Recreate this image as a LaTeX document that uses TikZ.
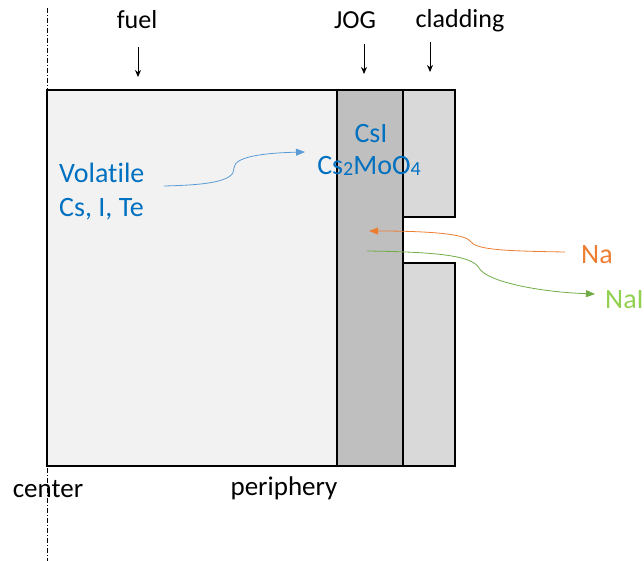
\documentclass[tikz,border=0pt]{standalone}
\usepackage{fontspec}
\setmainfont{Carlito}[Ligatures=NoCommon]
\usetikzlibrary{arrows.meta}
\definecolor{fuelfill}{HTML}{F2F2F2}
\definecolor{jogfill}{HTML}{BFBFBF}
\definecolor{cladfill}{HTML}{D9D9D9}
\definecolor{txtblue}{HTML}{0070C0}
\definecolor{arrblue}{HTML}{5B9BD5}
\definecolor{naorange}{HTML}{ED7D31}
\definecolor{nagreen}{HTML}{70AD47}
\definecolor{naigreen}{HTML}{92D050}
\tikzset{
  region/.style={draw=black, line width=1.3pt},
  toplabel/.style={font=\fontsize{26}{30}\selectfont, inner sep=0pt, anchor=base},
  botlabel/.style={font=\fontsize{27}{31}\selectfont, inner sep=0pt, anchor=base},
  bluetext/.style={font=\fontsize{28}{32}\selectfont, text=txtblue, inner sep=0pt},
  pointer/.style={-{Stealth[length=7pt,width=6pt]}, line width=0.8pt},
  flowline/.style={line width=0.8pt, draw=#1, -{Triangle[length=9pt,width=7pt,fill=#1]}},
}
\newcommand{\smallsub}[1]{\raisebox{-1pt}{\fontsize{20}{22}\selectfont #1}}
\begin{document}
\begin{tikzpicture}[x=1pt,y=-1pt]
\useasboundingbox (0,0) rectangle (644,561);
% regions
\fill[fuelfill] (47,90) rectangle (337,466);
\fill[jogfill] (337,90) rectangle (403,466);
\fill[cladfill] (403,90) rectangle (455,217);
\fill[cladfill] (403,263) rectangle (455,466);
\draw[region] (47,90) rectangle (337,466);
\draw[region] (337,90) rectangle (403,466);
\draw[region] (403,90) -- (455,90) -- (455,217) -- (403,217);
\draw[region] (403,263) -- (455,263) -- (455,466) -- (403,466);
% center line
\draw[line width=0.6pt, dash pattern=on 5pt off 2pt on 1pt off 2pt] (47,8) -- (47,561);
% top labels
\node[toplabel] (fuel) at (137,29) {fuel};
\node[toplabel] (jog) at (355,29) {JOG};
\node[toplabel] (clad) at (460,28) {cladding};
\coordinate (fuelA) at (138,47); \coordinate (fuelB) at (138,77);
\coordinate (jogA) at (364,44); \coordinate (jogB) at (364,74);
\coordinate (cladA) at (430,42); \coordinate (cladB) at (430,72);
\draw[pointer] (fuelA) -- (fuelB);
\draw[pointer] (jogA) -- (jogB);
\draw[pointer] (cladA) -- (cladB);
% bottom labels
\node[botlabel] (center) at (48,497) {center};
\node[botlabel] (periph) at (284,495) {periphery};
% blue texts
\node[bluetext, anchor=base west] (vol) at (59,183) {Volatile};
\node[bluetext, anchor=base west] (cite) at (59,216) {Cs, I, Te};
\node[bluetext, anchor=base] (csi) at (371,143) {CsI};
\node[bluetext, anchor=base] (csmo) at (369,175) {Cs\smallsub{2}MoO\smallsub{4}};
% blue arrow
\coordinate (bS) at (164,186);
\coordinate (bM) at (234,168);
\coordinate (bE) at (305,152);
\draw[flowline=arrblue] (bS) .. controls (205,185) and (235,182) .. (bM) .. controls (234,157) and (262,153) .. (bE);
% Na
\node[bluetext, text=naorange, anchor=base west] (na) at (581,263) {Na};
\coordinate (oS) at (565,252);
\coordinate (oM) at (470,241);
\coordinate (oE) at (369,231);
\draw[flowline=naorange] (oS) .. controls (505,251) and (476,250) .. (oM) .. controls (464,233) and (420,231) .. (oE);
% NaI
\node[bluetext, text=naigreen, anchor=base west] (nai) at (605,308) {NaI};
\coordinate (gS) at (367,251);
\coordinate (gM) at (479,268);
\coordinate (gE) at (595,294);
\draw[flowline=nagreen] (gS) .. controls (440,252) and (472,256) .. (gM) .. controls (487,282) and (540,292) .. (gE);
\end{tikzpicture}
\end{document}
